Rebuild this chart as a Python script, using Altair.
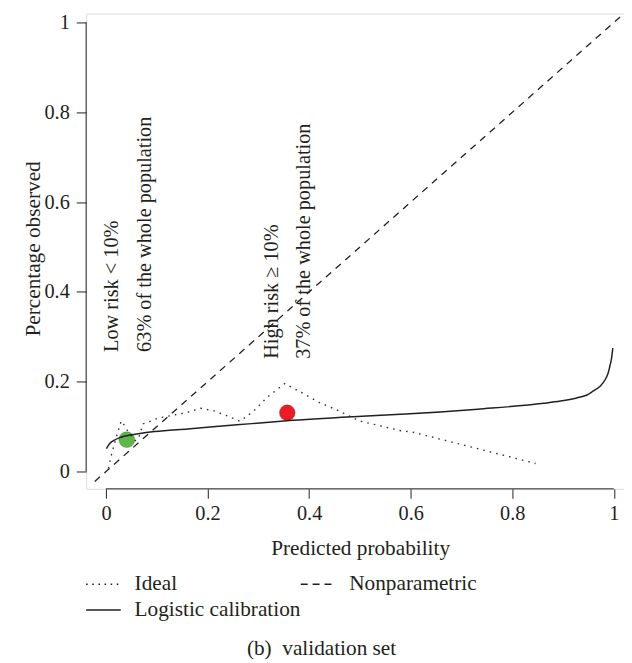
import altair as alt
import pandas as pd

# ---- data ----
ideal_x = [0.005, 0.009, 0.013, 0.028, 0.031, 0.044, 0.057, 0.064, 0.073, 0.103,
           0.161, 0.186, 0.213, 0.239, 0.264, 0.291, 0.317, 0.352, 0.388, 0.420,
           0.459, 0.498, 0.580, 0.603, 0.732, 0.846]
ideal_y = [0.007, 0.029, 0.047, 0.106, 0.113, 0.088, 0.069, 0.073, 0.106, 0.119,
           0.132, 0.141, 0.135, 0.124, 0.112, 0.135, 0.165, 0.196, 0.174, 0.154,
           0.135, 0.113, 0.091, 0.088, 0.051, 0.018]

logit_x = [0.001, 0.007, 0.015, 0.031, 0.064, 0.096, 0.161, 0.258, 0.356, 0.486,
           0.590, 0.732, 0.862, 0.895, 0.927, 0.946, 0.959, 0.973, 0.979, 0.985,
           0.989, 0.992, 0.995, 0.998]
logit_y = [0.051, 0.062, 0.069, 0.077, 0.084, 0.089, 0.095, 0.104, 0.113, 0.122,
           0.128, 0.139, 0.152, 0.157, 0.164, 0.170, 0.179, 0.190, 0.198, 0.209,
           0.220, 0.234, 0.249, 0.275]

nonpar_x = [-0.022, 1.04]
nonpar_y = [-0.022, 1.04]

group_names = ["Low risk", "High risk"]
group_x = [0.041, 0.357]
group_y = [0.071, 0.131]
group_colors = ["#5cb848", "#ec1c24"]

note_lines = ["Low risk < 10%", "63% of the whole population",
              "High risk \u2265 10%", "37% of the whole population"]
note_x = [0.012, 0.078, 0.328, 0.390]
note_y = [0.2665, 0.2665, 0.251, 0.251]

x_ticks = [0, 0.2, 0.4, 0.6, 0.8, 1]
y_ticks = [0, 0.2, 0.4, 0.6, 0.8, 1]

legend_labels = ["Ideal", "Nonparametric", "Logistic calibration"]
x_title = "Predicted probability"
y_title = "Percentage observed"
caption = "(b)\u00a0\u00a0validation set"

# ---- styling ----
FONT = "Liberation Serif"
FS = 20.5      # tick labels, annotations
FS2 = 21.5     # titles, legend, caption
INK = "#231f20"
XMIN, XMAX = -0.039, 1.02
YMIN, YMAX = -0.0385, 1.02
W = (XMAX - XMIN) * 513.5
H = (YMAX - YMIN) * 454

xs = alt.Scale(domain=[XMIN, XMAX], nice=False, zero=False)
ys = alt.Scale(domain=[YMIN, YMAX], nice=False, zero=False)

xaxis = alt.Axis(values=x_ticks, format="~g", domain=False, grid=False,
                 tickSize=9.5, tickColor=INK, tickWidth=1, labelPadding=5,
                 labelFont=FONT, labelFontSize=FS, labelColor=INK,
                 title=x_title, titleFont=FONT, titleFontSize=FS2,
                 titleFontWeight="normal", titleColor=INK,
                 titleX=277, titleY=60, titleBaseline="middle", titleAlign="center")
yaxis = alt.Axis(values=y_ticks, format="~g", domain=False, grid=False,
                 tickSize=10, tickColor=INK, tickWidth=1, labelPadding=7,
                 labelFont=FONT, labelFontSize=FS, labelColor=INK,
                 title=y_title, titleFont=FONT, titleFontSize=FS2,
                 titleFontWeight="normal", titleColor=INK,
                 titleX=-53, titleY=237.5, titleBaseline="middle",
                 titleAlign="center", titleAngle=270)

groups = pd.DataFrame({"group": group_names, "x": group_x, "y": group_y})
ideal = pd.DataFrame({"x": ideal_x, "y": ideal_y})
logit = pd.DataFrame({"x": logit_x, "y": logit_y})
nonpar = pd.DataFrame({"x": nonpar_x, "y": nonpar_y})
notes = pd.DataFrame({"text": note_lines, "x": note_x, "y": note_y})

points = alt.Chart(groups).mark_circle(size=255, opacity=1, stroke="#444", strokeWidth=0.3).encode(
    x=alt.X("x:Q", scale=xs, axis=xaxis),
    y=alt.Y("y:Q", scale=ys, axis=yaxis),
    color=alt.Color("group:N", scale=alt.Scale(domain=group_names, range=group_colors), legend=None),
)

ideal_line = alt.Chart(ideal).mark_line(color="#333", strokeWidth=1.4, strokeDash=[1.6, 5.1]).encode(
    x=alt.X("x:Q", scale=xs), y=alt.Y("y:Q", scale=ys))
logit_line = alt.Chart(logit).mark_line(color=INK, strokeWidth=1.5, interpolate="monotone").encode(
    x=alt.X("x:Q", scale=xs), y=alt.Y("y:Q", scale=ys))
nonpar_line = alt.Chart(nonpar).mark_line(color=INK, strokeWidth=1.3, strokeDash=[7, 6], clip=True).encode(
    x=alt.X("x:Q", scale=xs), y=alt.Y("y:Q", scale=ys))

note_text = alt.Chart(notes).mark_text(angle=270, align="left", baseline="middle",
                                       font=FONT, fontSize=FS, color=INK).encode(
    x=alt.X("x:Q", scale=xs), y=alt.Y("y:Q", scale=ys), text="text:N")

# R-style axis lines spanning only the tick range
xline = alt.Chart(pd.DataFrame({"x": [x_ticks[0]], "x2": [x_ticks[-1]], "y": [YMIN]})).mark_rule(
    color=INK, strokeWidth=1).encode(x=alt.X("x:Q", scale=xs), x2="x2:Q", y=alt.Y("y:Q", scale=ys))
yline = alt.Chart(pd.DataFrame({"y": [y_ticks[0]], "y2": [y_ticks[-1]], "x": [XMIN]})).mark_rule(
    color=INK, strokeWidth=1).encode(y=alt.Y("y:Q", scale=ys), y2="y2:Q", x=alt.X("x:Q", scale=xs))

# manual legend below the plot
def legend_item(label, sx, sy, dash):
    df = pd.DataFrame({"label": [label]})
    kw = dict(color=INK, strokeWidth=1.4)
    if dash:
        kw["strokeDash"] = dash
    sample = alt.Chart(df).mark_rule(**kw).encode(
        x=alt.value(sx), x2=alt.value(sx + 35), y=alt.value(sy))
    txt = alt.Chart(df).mark_text(align="left", baseline="middle", font=FONT,
                                  fontSize=FS2, color=INK).encode(
        x=alt.value(sx + 49), y=alt.value(sy), text="label:N")
    return [sample, txt]

leg = []
leg += legend_item(legend_labels[0], 0, 577, [1.6, 4.6])
leg += legend_item(legend_labels[1], 217, 577, [7, 5])
leg += legend_item(legend_labels[2], 0, 603, None)

cap = alt.Chart(pd.DataFrame({"label": [caption]})).mark_text(
    align="center", baseline="middle", font=FONT, fontSize=FS2, color=INK).encode(
    x=alt.value(238), y=alt.value(643), text="label:N")

chart = alt.layer(points, ideal_line, logit_line, nonpar_line, note_text, xline, yline,
                  *leg, cap).properties(
    width=W, height=H,
    autosize=alt.AutoSizeParams(type="none"),
    padding={"left": 79, "top": 2, "right": 0, "bottom": 170},
).configure_view(stroke=None).configure(background="white")

chart.save("out.html", embed_options={"renderer": "svg", "actions": False})
